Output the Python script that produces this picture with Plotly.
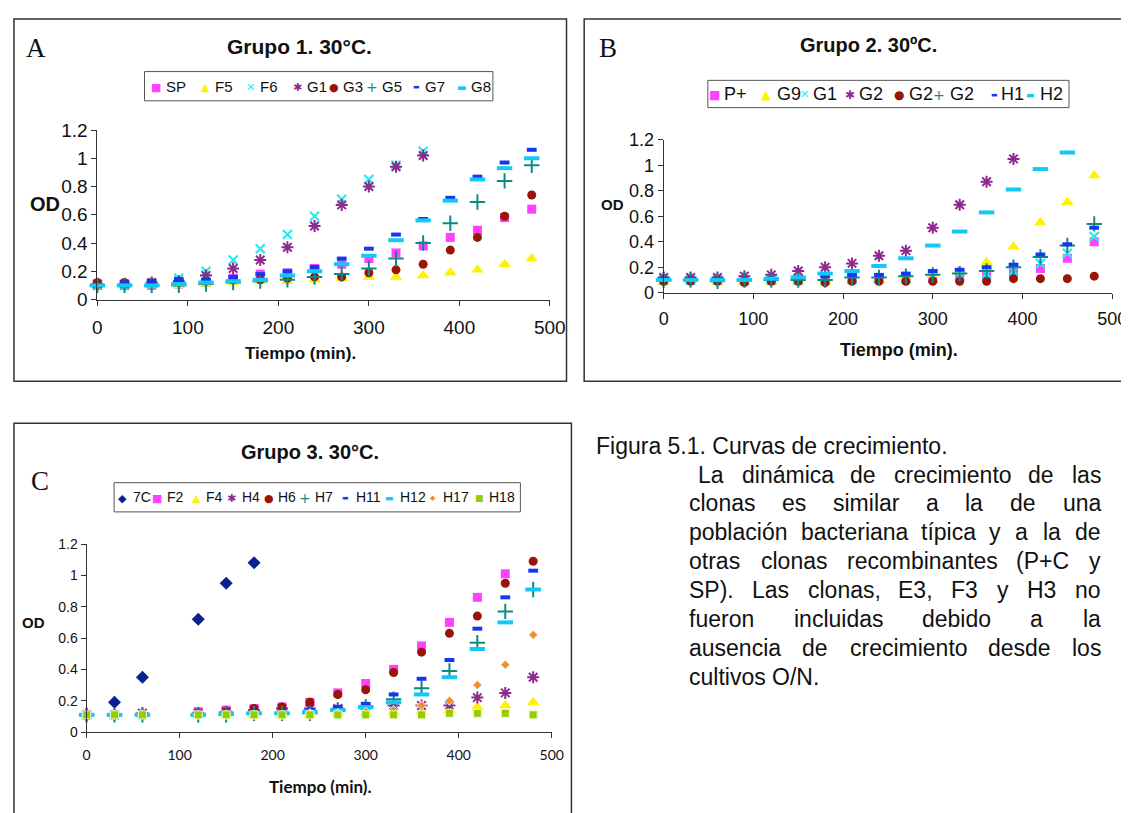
import plotly.graph_objects as go

# ---------------- data ----------------
t_full = [0, 30, 60, 90, 120, 150, 180, 210, 240, 270, 300, 330, 360, 390, 420, 450, 480]
t_c = [0, 30, 60, 120, 150, 180, 210, 240, 270, 300, 330, 360, 390, 420, 450, 480]
t_7c = [0, 30, 60, 120, 150, 180]

# Panel A - Grupo 1
a_names = ["SP", "F5", "F6", "G1", "G3", "G5", "G7", "G8"]
a_SP = [0.10, 0.10, 0.10, 0.11, 0.12, 0.15, 0.18, 0.19, 0.22, 0.25, 0.29, 0.33, 0.38, 0.44, 0.49, 0.58, 0.64]
a_F5 = [0.10, 0.10, 0.10, 0.10, 0.11, 0.12, 0.13, 0.13, 0.14, 0.15, 0.16, 0.16, 0.17, 0.19, 0.21, 0.25, 0.29]
a_F6 = [0.10, 0.10, 0.11, 0.15, 0.20, 0.28, 0.36, 0.46, 0.59, 0.71, 0.85, 0.95, 1.05]
a_G1 = [0.11, 0.11, 0.12, 0.13, 0.17, 0.22, 0.28, 0.37, 0.52, 0.67, 0.80, 0.94, 1.02]
a_G3 = [0.12, 0.12, 0.12, 0.13, 0.13, 0.14, 0.14, 0.15, 0.16, 0.16, 0.19, 0.21, 0.25, 0.35, 0.44, 0.59, 0.74]
a_G5 = [0.10, 0.10, 0.10, 0.10, 0.11, 0.12, 0.13, 0.14, 0.16, 0.18, 0.22, 0.29, 0.40, 0.54, 0.69, 0.84, 0.95]
a_G7 = [0.10, 0.12, 0.13, 0.14, 0.14, 0.16, 0.18, 0.20, 0.23, 0.29, 0.36, 0.46, 0.57, 0.72, 0.87, 0.97, 1.06]
a_G8 = [0.10, 0.10, 0.10, 0.11, 0.12, 0.13, 0.14, 0.17, 0.20, 0.25, 0.31, 0.42, 0.56, 0.70, 0.85, 0.93, 1.00]

# Panel B - Grupo 2
b_names = ["P+", "G9", "G1", "G2", "G2", "G2", "H1", "H2"]
b_Pp = [0.10, 0.10, 0.10, 0.10, 0.10, 0.10, 0.11, 0.11, 0.11, 0.11, 0.11, 0.12, 0.13, 0.16, 0.19, 0.27, 0.40]
b_G9 = [0.08, 0.09, 0.08, 0.08, 0.08, 0.08, 0.08, 0.09, 0.10, 0.12, 0.14, 0.17, 0.24, 0.36, 0.55, 0.71, 0.92]
b_G1 = [0.10, 0.10, 0.10, 0.10, 0.10, 0.10, 0.10, 0.11, 0.11, 0.11, 0.12, 0.13, 0.15, 0.17, 0.23, 0.31, 0.44]
b_G2s = [0.12, 0.12, 0.12, 0.13, 0.14, 0.17, 0.20, 0.23, 0.29, 0.33, 0.51, 0.69, 0.87, 1.05]
b_G2c = [0.09, 0.09, 0.09, 0.08, 0.09, 0.09, 0.08, 0.09, 0.09, 0.09, 0.09, 0.09, 0.09, 0.11, 0.11, 0.11, 0.13]
b_G2p = [0.10, 0.10, 0.09, 0.10, 0.10, 0.10, 0.10, 0.12, 0.12, 0.13, 0.14, 0.15, 0.17, 0.20, 0.28, 0.37, 0.54]
b_H1 = [0.10, 0.10, 0.10, 0.10, 0.11, 0.12, 0.13, 0.14, 0.14, 0.15, 0.17, 0.18, 0.20, 0.22, 0.30, 0.38, 0.51]
b_H2 = [0.10, 0.10, 0.10, 0.10, 0.11, 0.12, 0.15, 0.17, 0.21, 0.27, 0.37, 0.48, 0.63, 0.81, 0.97, 1.10]

# Panel C - Grupo 3
c_names = ["7C", "F2", "F4", "H4", "H6", "H7", "H11", "H12", "H17", "H18"]
c_7C = [0.11, 0.19, 0.35, 0.72, 0.95, 1.08]
c_F2 = [0.11, 0.11, 0.11, 0.13, 0.14, 0.15, 0.16, 0.19, 0.25, 0.31, 0.40, 0.55, 0.70, 0.86, 1.01]
c_F4 = [0.11, 0.11, 0.11, 0.11, 0.11, 0.11, 0.11, 0.11, 0.12, 0.12, 0.13, 0.13, 0.14, 0.16, 0.17, 0.19]
c_H4 = [0.11, 0.11, 0.12, 0.12, 0.13, 0.14, 0.15, 0.15, 0.15, 0.15, 0.17, 0.17, 0.17, 0.22, 0.25, 0.35]
c_H6 = [0.11, 0.11, 0.11, 0.12, 0.13, 0.15, 0.16, 0.19, 0.24, 0.27, 0.38, 0.51, 0.63, 0.74, 0.95, 1.09]
c_H7 = [0.11, 0.11, 0.11, 0.11, 0.11, 0.12, 0.12, 0.12, 0.14, 0.16, 0.21, 0.28, 0.39, 0.57, 0.77, 0.91]
c_H11 = [0.11, 0.11, 0.11, 0.12, 0.12, 0.13, 0.13, 0.14, 0.16, 0.18, 0.24, 0.34, 0.46, 0.66, 0.86, 1.03]
c_H12 = [0.11, 0.11, 0.11, 0.11, 0.12, 0.12, 0.12, 0.13, 0.14, 0.16, 0.19, 0.24, 0.35, 0.53, 0.70, 0.91]
c_H17 = [0.11, 0.11, 0.11, 0.11, 0.11, 0.11, 0.11, 0.12, 0.12, 0.13, 0.14, 0.17, 0.20, 0.30, 0.43, 0.62]
c_H18 = [0.11, 0.11, 0.11, 0.11, 0.11, 0.11, 0.11, 0.11, 0.11, 0.11, 0.11, 0.11, 0.12, 0.12, 0.12, 0.11]

x_ticks = [0, 100, 200, 300, 400, 500]
y_ticks = [0, 0.2, 0.4, 0.6, 0.8, 1, 1.2]

caption_title = "Figura 5.1. Curvas de crecimiento."
caption_lines = [
    "La dinámica de crecimiento de las",
    "clonas es similar a la de una",
    "población bacteriana típica y a la de",
    "otras clonas recombinantes (P+C y",
    "SP). Las clonas, E3, F3 y H3 no",
    "fueron incluidas debido a la",
    "ausencia de crecimiento desde los",
]
caption_last = "cultivos O/N."

# ---------------- styles ----------------
ARIAL = "Liberation Sans, Arial, sans-serif"
CALIBRI = "Lato, Carlito, Calibri, sans-serif"
SERIF = "Liberation Serif, Times New Roman, serif"

MAG, YEL, CYA, PUR, RED, TEA, BLU, SKY = "#FF40FF", "#FFF200", "#22EEEE", "#8E2A8E", "#9A1407", "#0E8A86", "#1438F0", "#14C8F5"
NAVY, ORA, LIME = "#0A2290", "#FF8A1E", "#99CC00"

ST = {
    "sq": dict(symbol="square", size=9, color=MAG),
    "tri": dict(symbol="triangle-up", size=11, color=YEL),
    "x": dict(symbol="x-thin-open", size=9, color=CYA, line=dict(width=2.2, color=CYA)),
    "star": dict(symbol="asterisk-open", size=10, color=PUR, line=dict(width=2, color=PUR)),
    "circ": dict(symbol="circle", size=9, color=RED),
    "plus": dict(symbol="cross-thin-open", size=11, color=TEA, line=dict(width=2, color=TEA)),
    "dshort": dict(symbol="line-ew-open", size=7, color=BLU, line=dict(width=4, color=BLU)),
    "dlong": dict(symbol="line-ew-open", size=11, color=SKY, line=dict(width=4, color=SKY)),
    "diam": dict(symbol="diamond", size=10, color=NAVY),
    "sdiam": dict(symbol="diamond", size=7, color=ORA, line=dict(width=1, color="#CCFFFF")),
    "lsq": dict(symbol="square", size=8, color=LIME, line=dict(width=1, color="#DDFFCC")),
}

W, H = 1129, 813
def px(x):
    return x / W
def py(y):
    return 1 - y / H

fig = go.Figure()

def add(xs, ys, name, style, n):
    xa = "x" if n == 1 else f"x{n}"
    ya = "y" if n == 1 else f"y{n}"
    fig.add_trace(go.Scatter(x=xs[:len(ys)], y=ys, name=name, mode="markers",
                             marker=ST[style], xaxis=xa, yaxis=ya,
                             cliponaxis=False, showlegend=False))

STYLES8 = ["sq", "tri", "x", "star", "circ", "plus", "dshort", "dlong"]
for ys, nm, st in zip([a_SP, a_F5, a_F6, a_G1, a_G3, a_G5, a_G7, a_G8], a_names, STYLES8):
    add(t_full, ys, nm, st, 1)
for ys, nm, st in zip([b_Pp, b_G9, b_G1, b_G2s, b_G2c, b_G2p, b_H1, b_H2], b_names, STYLES8):
    add(t_full, ys, nm, st, 2)
add(t_7c, c_7C, "7C", "diam", 3)
for ys, nm, st in zip([c_F2, c_F4, c_H4, c_H6, c_H7, c_H11, c_H12, c_H17, c_H18], c_names[1:],
                      ["sq", "tri", "star", "circ", "plus", "dshort", "dlong", "sdiam", "lsq"]):
    add(t_c, ys, nm, st, 3)

AX = dict(showline=True, linecolor="#333", linewidth=1, ticks="outside", ticklen=5,
          tickcolor="#333", showgrid=False, zeroline=False)

def xaxis(x0, x1, size, family, standoff, anchor):
    return dict(AX, domain=[px(x0), px(x1)], range=[0, 500], tickvals=x_ticks, anchor=anchor,
                tickfont=dict(size=size, family=family, color="#111"),
                ticklabelstandoff=standoff)

def yaxis(y0, y1, size, family, anchor):
    return dict(AX, domain=[py(y1), py(y0)], range=[0, 1.2], tickvals=y_ticks, anchor=anchor,
                tickfont=dict(size=size, family=family, color="#111"))

fig.update_layout(
    width=W, height=H, margin=dict(l=0, r=0, t=0, b=0),
    paper_bgcolor="white", plot_bgcolor="white", showlegend=False,
    xaxis=xaxis(86, 547, 19, ARIAL, 6, "y"),
    yaxis=yaxis(115, 289, 19, ARIAL, "x"),
    xaxis2=xaxis(663, 1120, 18, ARIAL, 5, "y2"),
    yaxis2=yaxis(125, 282, 18, ARIAL, "x2"),
    xaxis3=xaxis(75, 549, 14, CALIBRI, 5, "y3"),
    yaxis3=yaxis(540, 733, 14, ARIAL, "x3"),
)

# panel boxes
for (x0, y0, x1, y1) in [(1, 1, 564, 373), (582, 1, 1140, 373), (1, 416, 569, 830)]:
    fig.add_shape(type="rect", xref="paper", yref="paper", x0=px(x0), x1=px(x1),
                  y0=py(y1), y1=py(y0), line=dict(color="#333", width=1.5))

def ann(text, x, y, size, family=ARIAL, bold=False, xanchor="center", color="#111"):
    if bold:
        text = f"<b>{text}</b>"
    fig.add_annotation(text=text, x=px(x), y=py(y), xref="paper", yref="paper",
                       showarrow=False, xanchor=xanchor, yanchor="middle",
                       font=dict(size=size, family=family, color=color))

# panel letters
ann("A", 23, 31, 27, SERIF)
ann("B", 606, 31, 27, SERIF)
ann("C", 28, 475, 27, SERIF)
# titles
ann("Grupo 1. 30°C.", 292, 29, 21, bold=True)
ann("Grupo 2. 30ºC.", 872, 28, 20, bold=True)
ann("Grupo 3. 30°C.", 303, 446, 20, bold=True)
# axis titles
ann("OD", 33, 191, 20, bold=True)
ann("OD", 611, 191, 15, bold=True)
ann("OD", 21, 621, 15, bold=True)
ann("Tiempo (min).", 293, 344, 17, bold=True)
ann("Tiempo (min).", 903, 341, 18, bold=True)
ann("Tiempo (min).", 313, 789, 17, CALIBRI, bold=True)

# legends: bordered box + symbol glyph + label per entry
def legend(box, yc, entries, size):
    x0, y0, x1, y1 = box
    fig.add_shape(type="rect", xref="paper", yref="paper", x0=px(x0), x1=px(x1),
                  y0=py(y1), y1=py(y0), line=dict(color="#555", width=1))
    for (glyph, color, gsize, gx, label, lx) in entries:
        fig.add_annotation(text=glyph, x=px(gx), y=py(yc + 1), xref="paper", yref="paper",
                           showarrow=False, xanchor="center", yanchor="middle",
                           font=dict(size=gsize, family="DejaVu Sans", color=color))
        ann(label, lx, yc, size, xanchor="left")

legend((134, 55, 489, 85), 70, [
    ("■", MAG, 11, 146, "SP", 154), ("▲", YEL, 11, 196, "F5", 204),
    ("✕", CYA, 11, 242, "F6", 250), ("✱", PUR, 11, 290, "G1", 298),
    ("●", RED, 11, 327, "G3", 334), ("+", TEA, 14, 366, "G5", 374),
    ("▬", BLU, 7, 411, "G7", 418), ("▬", SKY, 10, 457, "G8", 465)], 15)
legend((708, 64, 1076, 92), 78, [
    ("■", MAG, 12, 715, "P+", 722), ("▲", YEL, 13, 767, "G9", 776),
    ("✕", CYA, 11, 806, "G1", 813), ("✱", PUR, 12, 853, "G2", 860),
    ("●", RED, 12, 903, "G2", 911), ("+", TEA, 14, 944, "G2", 953),
    ("▬", BLU, 7, 1000, "H1", 1005), ("▬", SKY, 9, 1037, "H2", 1044)], 18)
legend((103, 477, 517, 507), 492, [
    ("◆", NAVY, 11, 112, "7C", 120), ("■", MAG, 11, 147, "F2", 155),
    ("▲", YEL, 11, 187, "F4", 195), ("✱", PUR, 11, 223, "H4", 231),
    ("●", RED, 11, 261, "H6", 268), ("+", TEA, 14, 298, "H7", 306),
    ("▬", BLU, 7, 339, "H11", 347), ("▬", SKY, 9, 384, "H12", 392),
    ("◆", ORA, 7, 428, "H17", 436), ("■", LIME, 9, 475, "H18", 483)], 14)

# caption with justified paragraph (Arial metrics)
AW = {" ": 278, ".": 278, ",": 278, "(": 333, ")": 333, "+": 584, "/": 278,
      "a": 556, "b": 556, "c": 500, "d": 556, "e": 556, "f": 278, "g": 556, "h": 556, "i": 222,
      "l": 222, "m": 833, "n": 556, "o": 556, "p": 556, "r": 333, "s": 500, "t": 278, "u": 556,
      "v": 500, "y": 500, "á": 556, "í": 222, "ó": 556, "C": 722, "E": 667, "F": 611, "H": 722,
      "L": 556, "N": 722, "O": 778, "P": 667, "S": 667}
CAP = 23
def wlen(s):
    return sum(AW.get(ch, 556) for ch in s) * CAP / 1000.0

LEFT, RIGHT = 687, 1106
y_first, y_last = 439, 676
dy = (y_last - y_first) / 8.0
ann(caption_title, 592, y_first, CAP, xanchor="left")
for i, line in enumerate(caption_lines):
    words = line.split(" ")
    left = LEFT + (9 if i == 0 else 0)
    total = sum(wlen(w) for w in words)
    gap = (RIGHT - left - total) / (len(words) - 1)
    xcur = left
    for w in words:
        ann(w, xcur, y_first + dy * (i + 1), CAP, xanchor="left")
        xcur += wlen(w) + gap
ann(caption_last, LEFT, y_last, CAP, xanchor="left")

fig.write_html("out.html")
